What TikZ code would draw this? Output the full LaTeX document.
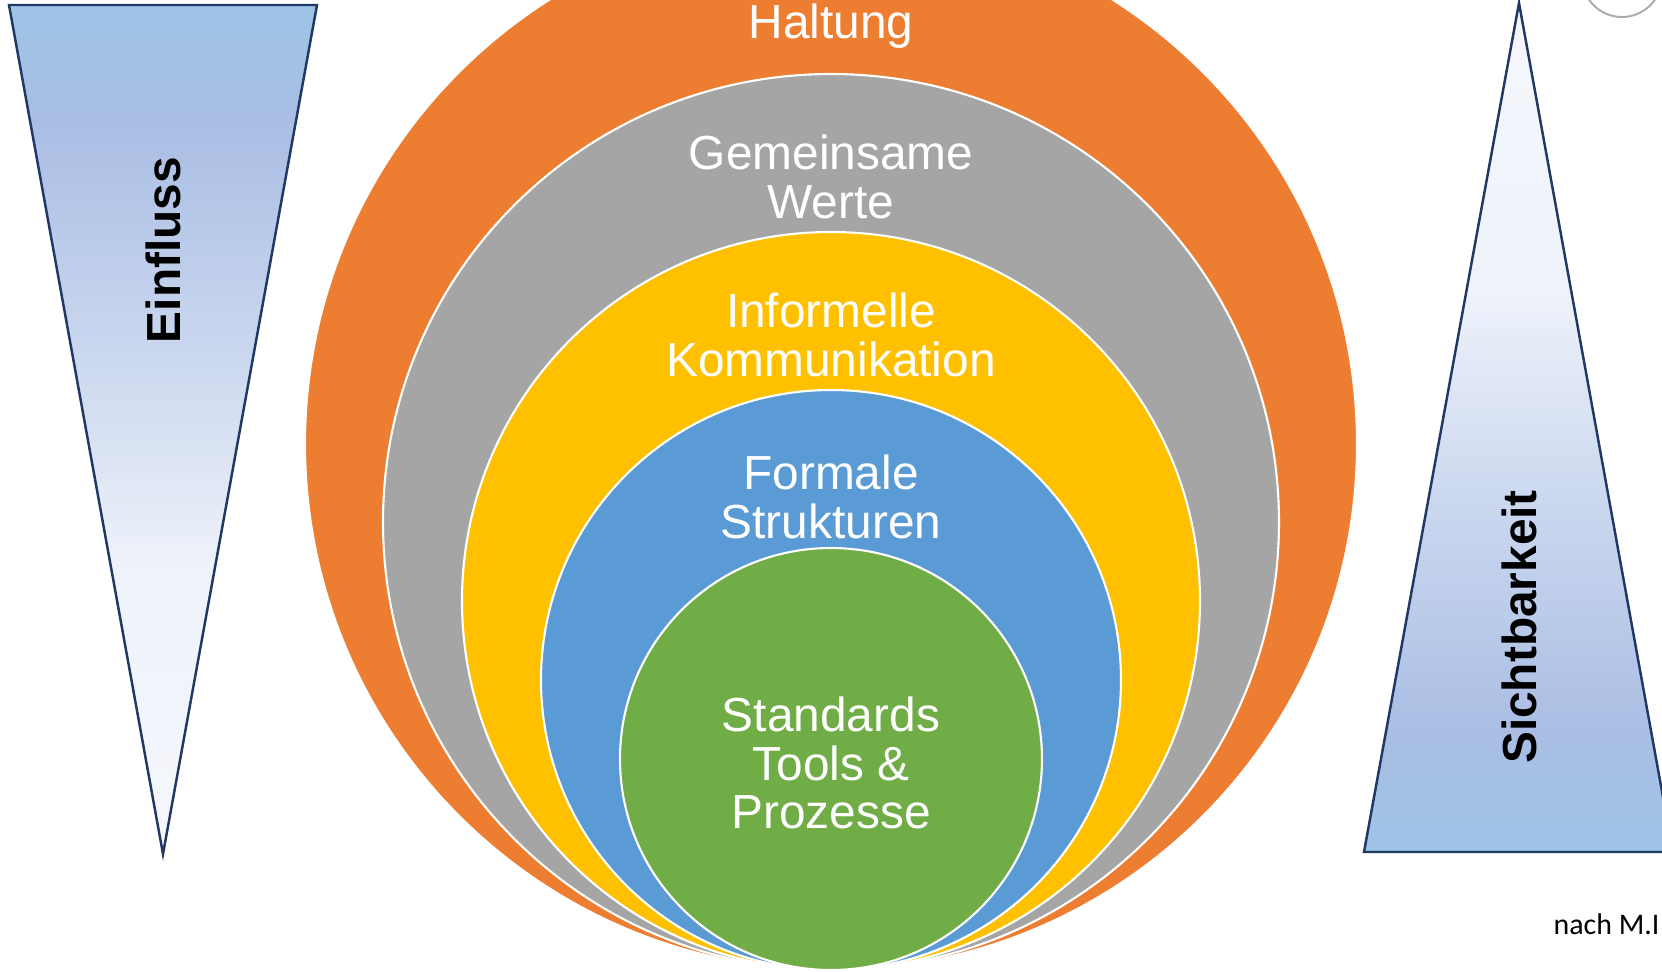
\documentclass[tikz,border=0pt]{standalone}
\usepackage{xcolor}
\usepackage{tikz}
\usepackage{fontspec}
\setmainfont{Liberation Sans}
\newfontfamily\notefont{Carlito}
\usetikzlibrary{positioning}
\definecolor{haltungcolor}{RGB}{237, 125, 49}
\definecolor{wertecolor}{RGB}{165, 165, 165}
\definecolor{kommcolor}{RGB}{255, 192, 0}
\definecolor{strukturcolor}{RGB}{91, 155, 213}
\definecolor{toolscolor}{RGB}{112, 173, 71}
\definecolor{edgecolor}{RGB}{31, 56, 100}
\definecolor{arccolor}{RGB}{176, 168, 168}
\definecolor{shadeA}{RGB}{157, 195, 230}
\definecolor{shadeB}{RGB}{170, 190, 228}
\definecolor{shadeC}{RGB}{201, 214, 238}
\definecolor{shadeD}{RGB}{238, 242, 250}
\definecolor{shadeE}{RGB}{245, 247, 251}
\pgfdeclareverticalshading{einflussshade}{100bp}{color(0bp)=(shadeE); color(25bp)=(shadeE); color(42bp)=(shadeD); color(55bp)=(shadeC); color(68bp)=(shadeB); color(75bp)=(shadeA); color(100bp)=(shadeA)}
\pgfdeclareverticalshading{sichtshade}{100bp}{color(0bp)=(shadeA); color(25bp)=(shadeA); color(32bp)=(shadeB); color(45bp)=(shadeC); color(58bp)=(shadeD); color(75bp)=(shadeE); color(100bp)=(shadeE)}

\begin{document}
\begin{tikzpicture}[
    x=0.01cm, y=-0.01cm,
    ring/.style={draw=white, line width=0.6pt},
    ringlabel/.style={text=white, align=center, font=\fontsize{13.6}{13.9}\selectfont},
    wedge/.style={draw=edgecolor, line width=0.7pt, line join=miter},
    wedgelabel/.style={rotate=90, font=\fontsize{13.6}{16}\selectfont\bfseries}
]
\useasboundingbox (0,0) rectangle (1662,972);

% Culture rings
\filldraw[ring, fill=haltungcolor] (831,444) circle [radius=526];
\filldraw[ring, fill=wertecolor] (831,522) circle [radius=448];
\filldraw[ring, fill=kommcolor] (831,601) circle [radius=369];
\filldraw[ring, fill=strukturcolor] (831,680) circle [radius=290];
\filldraw[ring, fill=toolscolor] (831,759) circle [radius=211];

\node[ringlabel] (haltung) at (831,26) {Haltung};
\node[ringlabel] (werte) at (831,177) {Gemeinsame\\Werte};
\node[ringlabel] (komm) at (831,335) {Informelle\\Kommunikation};
\node[ringlabel] (struktur) at (831,497) {Formale\\Strukturen};
\node[ringlabel] (tools) at (831,763) {Standards\\Tools \&\\Prozesse};

% Influence and visibility
\shadedraw[wedge, shading=einflussshade] (9,5) -- (317,5) -- (163,854) -- cycle;
\shadedraw[wedge, shading=sichtshade] (1519,3) -- (1673,852) -- (1364,852) -- cycle;
\node[wedgelabel] (einfluss) at (163,250) {Einfluss};
\node[wedgelabel] (sicht) at (1519,627) {Sichtbarkeit};

% Source and corner arc
\node[anchor=base west, inner sep=0pt, font=\notefont\fontsize{8.5}{10}\selectfont] (quelle) at (1553,934) {nach M.I};
\draw[arccolor, line width=0.55pt] (1622,-23) circle [radius=40];

\end{tikzpicture}
\end{document}
